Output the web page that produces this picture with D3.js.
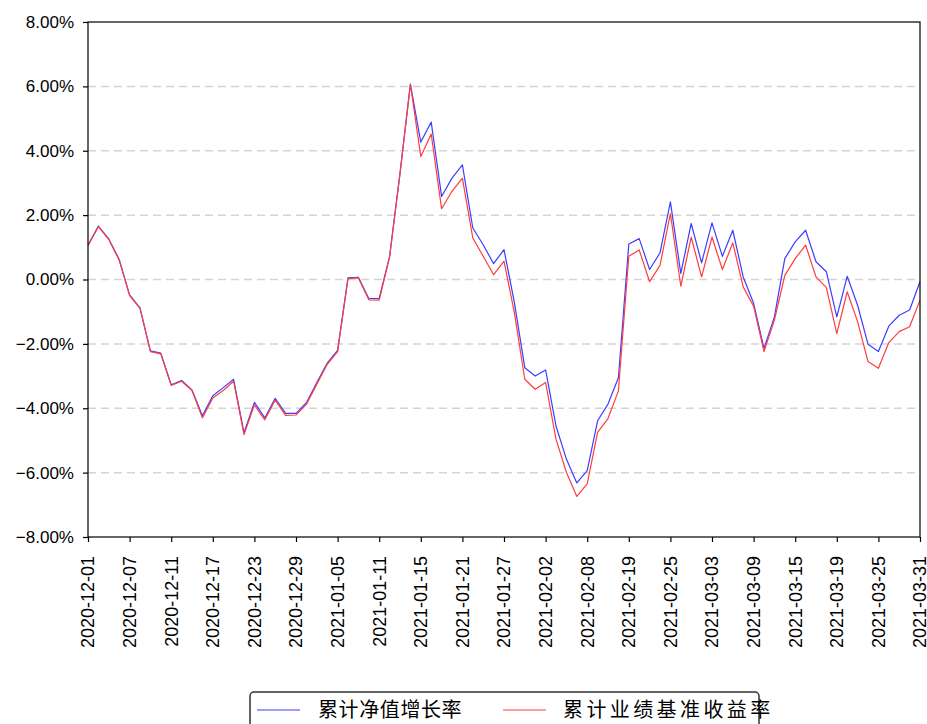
<!DOCTYPE html>
<html>
<head>
<meta charset="utf-8">
<script src="https://cdn.jsdelivr.net/npm/d3@7"></script>
<style>
  html, body { margin: 0; padding: 0; background: #fff; }
  svg { display: block; font-family: "Noto Sans CJK SC", "DejaVu Sans", sans-serif; }
</style>
</head>
<body>
<svg id="chart" width="927" height="724"></svg>
<script>
// trading days, 2020-12-01 .. 2021-03-31
const dates = [
  "2020-12-01", "2020-12-02", "2020-12-03", "2020-12-04", "2020-12-07", "2020-12-08", "2020-12-09",
  "2020-12-10", "2020-12-11", "2020-12-14", "2020-12-15", "2020-12-16", "2020-12-17", "2020-12-18",
  "2020-12-21", "2020-12-22", "2020-12-23", "2020-12-24", "2020-12-25", "2020-12-28", "2020-12-29",
  "2020-12-30", "2020-12-31", "2021-01-04", "2021-01-05", "2021-01-06", "2021-01-07", "2021-01-08",
  "2021-01-11", "2021-01-12", "2021-01-13", "2021-01-14", "2021-01-15", "2021-01-18", "2021-01-19",
  "2021-01-20", "2021-01-21", "2021-01-22", "2021-01-25", "2021-01-26", "2021-01-27", "2021-01-28",
  "2021-01-29", "2021-02-01", "2021-02-02", "2021-02-03", "2021-02-04", "2021-02-05", "2021-02-08",
  "2021-02-09", "2021-02-10", "2021-02-18", "2021-02-19", "2021-02-22", "2021-02-23", "2021-02-24",
  "2021-02-25", "2021-02-26", "2021-03-01", "2021-03-02", "2021-03-03", "2021-03-04", "2021-03-05",
  "2021-03-08", "2021-03-09", "2021-03-10", "2021-03-11", "2021-03-12", "2021-03-15", "2021-03-16",
  "2021-03-17", "2021-03-18", "2021-03-19", "2021-03-22", "2021-03-23", "2021-03-24", "2021-03-25",
  "2021-03-26", "2021-03-29", "2021-03-30", "2021-03-31",
];

// 累计净值增长率 (%)
const navGrowth = [
  1.07, 1.66, 1.26, 0.62, -0.48, -0.88, -2.22, -2.29, -3.27, -3.14,
  -3.43, -4.23, -3.61, -3.36, -3.10, -4.76, -3.82, -4.30, -3.69, -4.16,
  -4.16, -3.83, -3.20, -2.60, -2.20, 0.05, 0.07, -0.59, -0.59, 0.72,
  3.30, 6.07, 4.27, 4.89, 2.58, 3.15, 3.56, 1.60, 1.08, 0.49,
  0.93, -0.72, -2.74, -3.00, -2.81, -4.55, -5.58, -6.32, -5.94, -4.39,
  -3.87, -3.05, 1.10, 1.27, 0.31, 0.83, 2.41, 0.19, 1.74, 0.52,
  1.76, 0.72, 1.53, 0.08, -0.74, -2.14, -1.16, 0.65, 1.17, 1.53,
  0.55, 0.24, -1.16, 0.10, -0.80, -2.01, -2.24, -1.45, -1.11, -0.95,
  -0.07,
];

// 累计业绩基准收益率 (%)
const benchmark = [
  1.05, 1.64, 1.24, 0.60, -0.50, -0.90, -2.24, -2.31, -3.29, -3.16,
  -3.45, -4.30, -3.68, -3.45, -3.16, -4.82, -3.90, -4.36, -3.75, -4.22,
  -4.21, -3.88, -3.25, -2.64, -2.24, 0.03, 0.05, -0.63, -0.64, 0.70,
  3.28, 6.07, 3.82, 4.52, 2.20, 2.74, 3.15, 1.29, 0.72, 0.15,
  0.57, -1.03, -3.10, -3.41, -3.20, -4.96, -5.99, -6.74, -6.35, -4.75,
  -4.32, -3.46, 0.72, 0.92, -0.07, 0.44, 2.05, -0.21, 1.32, 0.08,
  1.32, 0.31, 1.14, -0.23, -0.83, -2.24, -1.26, 0.13, 0.65, 1.07,
  0.08, -0.25, -1.68, -0.38, -1.31, -2.55, -2.76, -1.96, -1.62, -1.47,
  -0.64,
];

const yTicks = [-8, -6, -4, -2, 0, 2, 4, 6, 8];
const xTickLabels = dates.filter((_, i) => i % 4 === 0);

const seriesNames = ["累计净值增长率", "累计业绩基准收益率"];
const seriesColors = ["#3d3dff", "#ff3d3d"];

const margin = { top: 22, left: 88 };
const width = 832;
const height = 515;

const svg = d3.select("#chart");
const g = svg.append("g").attr("transform", `translate(${margin.left},${margin.top})`);

const x = d3.scalePoint().domain(dates).range([0, width]);
const y = d3.scaleLinear().domain([-8, 8]).range([height, 0]);

// horizontal dashed grid
g.append("g")
  .selectAll("line")
  .data(yTicks.filter((t) => t > -8 && t < 8))
  .join("line")
  .attr("x1", 0)
  .attr("x2", width)
  .attr("y1", (t) => y(t))
  .attr("y2", (t) => y(t))
  .attr("stroke", "#d4d4d4")
  .attr("stroke-width", 1.5)
  .attr("stroke-dasharray", "8,5");

const line = d3
  .line()
  .x((_, i) => x(dates[i]))
  .y((v) => y(v));

[navGrowth, benchmark].forEach((values, k) => {
  g.append("path")
    .datum(values)
    .attr("fill", "none")
    .attr("stroke", seriesColors[k])
    .attr("stroke-width", 1.2)
    .attr("stroke-linejoin", "round")
    .attr("d", line);
});

// axes
const yAxis = g
  .append("g")
  .call(
    d3
      .axisLeft(y)
      .tickValues(yTicks)
      .tickSize(5)
      .tickPadding(9)
      .tickFormat((t) => d3.format(".2f")(t) + "%"),
  );

const xAxis = g
  .append("g")
  .attr("transform", `translate(0,${height})`)
  .call(d3.axisBottom(x).tickValues(xTickLabels).tickSize(5).tickPadding(0));

[yAxis, xAxis].forEach((axis) => {
  axis.select(".domain").remove();
  axis.selectAll(".tick line").attr("stroke", "#000").attr("stroke-width", 1.2);
});

yAxis.selectAll("text").attr("fill", "#000").style("font-size", "17px");

xAxis
  .selectAll("text")
  .attr("fill", "#000")
  .style("font-size", "18px")
  .attr("text-anchor", "end")
  .attr("transform", "translate(0,19) rotate(-90)")
  .attr("x", 0)
  .attr("y", 0)
  .attr("dy", "0.33em");

// frame
g.append("rect")
  .attr("width", width)
  .attr("height", height)
  .attr("fill", "none")
  .attr("stroke", "#000")
  .attr("stroke-width", 1.2);

// legend
const legend = svg.append("g");
legend
  .append("rect")
  .attr("x", 250)
  .attr("y", 692)
  .attr("width", 509)
  .attr("height", 44)
  .attr("rx", 4)
  .attr("fill", "#fff")
  .attr("stroke", "#333")
  .attr("stroke-width", 1.5);

const legendItems = [
  { lineX: 257, textX: 318, spacing: 0.6 },
  { lineX: 503, textX: 563, spacing: 3.4 },
];

legendItems.forEach((item, k) => {
  legend
    .append("line")
    .attr("x1", item.lineX)
    .attr("x2", item.lineX + 43)
    .attr("y1", 710)
    .attr("y2", 710)
    .attr("stroke", seriesColors[k])
    .attr("stroke-width", 1.2);
  legend
    .append("text")
    .attr("x", item.textX)
    .attr("y", 710)
    .attr("dy", "0.36em")
    .attr("fill", "#000")
    .style("font-size", "20px")
    .style("letter-spacing", `${item.spacing}px`)
    .text(seriesNames[k]);
});
</script>
</body>
</html>
